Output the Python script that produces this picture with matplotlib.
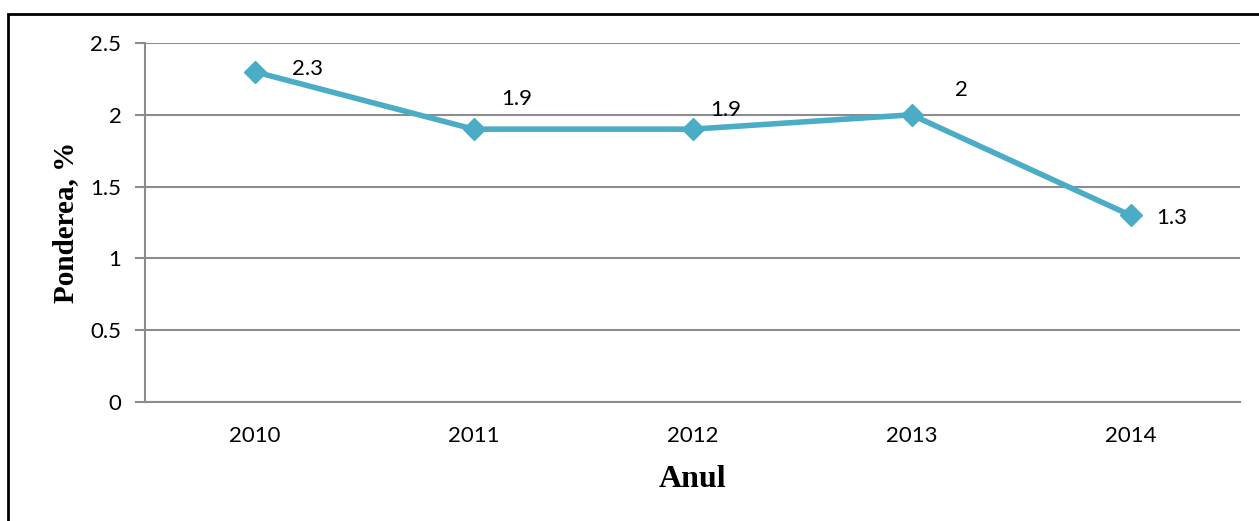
import matplotlib.pyplot as plt
from matplotlib.patches import Rectangle

years = ['2010', '2011', '2012', '2013', '2014']
share = [2.3, 1.9, 1.9, 2.0, 1.3]
value_labels = ['2.3', '1.9', '1.9', '2', '1.3']
# label offsets (points) relative to each marker
label_offsets = [(38, 2), (31, 22), (24, 14), (36, 18), (30, -2)]

line_color = '#4BACC6'
grid_color = '#8C8C8C'

plt.rcParams['font.family'] = ['Lato', 'DejaVu Sans']

fig = plt.figure(figsize=(12.59, 5.21), dpi=100)
ax = fig.add_axes([145 / 1259, 1 - 402 / 521, (1240 - 145) / 1259, (402 - 43) / 521])

x = list(range(len(years)))
ax.plot(x, share, color=line_color, linewidth=4, marker='D', markersize=11,
        markerfacecolor=line_color, markeredgecolor=line_color, zorder=3)

for xi, v, lab, off in zip(x, share, value_labels, label_offsets):
    ax.annotate(lab, (xi, v), xytext=off, textcoords='offset points',
                ha='center', va='center', fontsize=16, color='black')

ax.set_xlim(-0.5, len(years) - 0.5)
ax.set_ylim(0, 2.5)
ax.set_yticks([0, 0.5, 1, 1.5, 2, 2.5])
ax.set_yticklabels(['0', '0.5', '1', '1.5', '2', '2.5'])
ax.set_xticks(x)
ax.set_xticklabels(years)
ax.yaxis.grid(True, color=grid_color, linewidth=1.5)
ax.set_axisbelow(True)

for side in ['top', 'right']:
    ax.spines[side].set_visible(False)
ax.spines['left'].set_color(grid_color)
ax.spines['left'].set_linewidth(1.5)
ax.spines['bottom'].set_color(grid_color)
ax.spines['bottom'].set_linewidth(1.5)

ax.tick_params(axis='y', length=7, width=1.5, color=grid_color, labelsize=16, pad=10)
ax.tick_params(axis='x', length=0, labelsize=16, pad=17)

ax.set_xlabel('Anul', fontsize=23, fontweight='bold', family='Liberation Serif', labelpad=14)
ax.set_ylabel('Ponderea, %', fontsize=21, fontweight='bold', family='Liberation Serif', labelpad=8)

# outer frame, only top and left edges fall inside the image
fig.patches.append(Rectangle((8 / 1259, -0.1), 1.2, 1 - 14 / 521 + 0.1,
                             transform=fig.transFigure, fill=False,
                             edgecolor='black', linewidth=2))

fig.savefig('out.png', dpi=100)
